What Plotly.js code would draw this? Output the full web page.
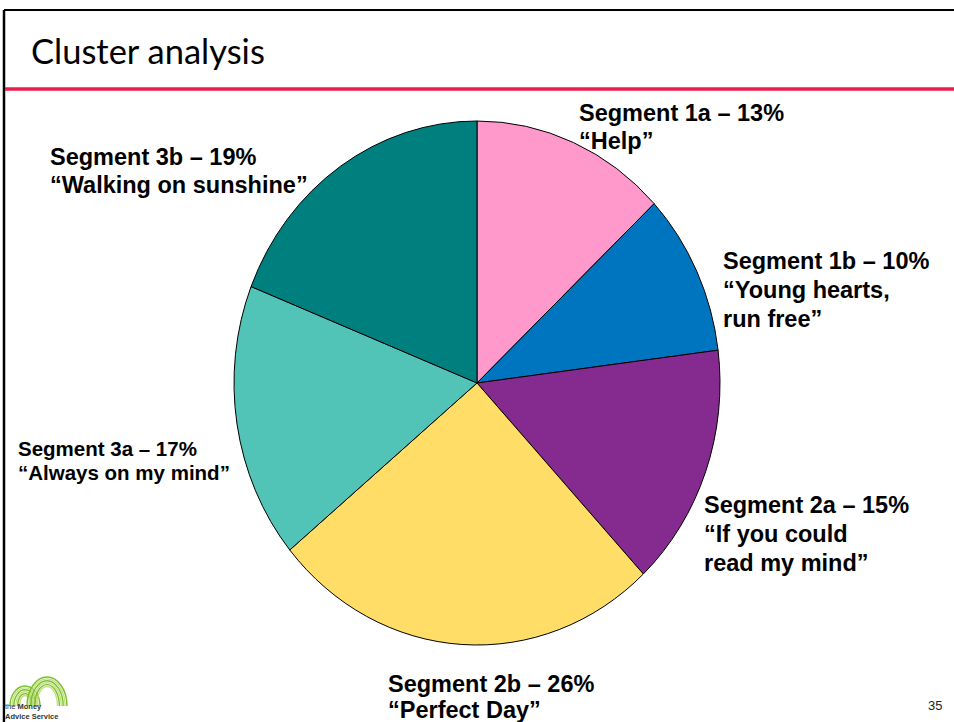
<!DOCTYPE html>
<html>
<head>
<meta charset="utf-8">
<script src="https://cdn.plot.ly/plotly-3.0.1.min.js"></script>
<style>
html,body{margin:0;padding:0;background:#fff;}
#chart{width:954px;height:722px;}
</style>
</head>
<body>
<div id="chart"></div>
<script>
// ---- data ----
const segments = ['Segment 1a', 'Segment 1b', 'Segment 2a', 'Segment 2b', 'Segment 3a', 'Segment 3b'];
const shares = [13, 10, 15, 26, 17, 19];
const nicknameLines = [
  ['\u201CHelp\u201D'],
  ['\u201CYoung hearts,', 'run free\u201D'],
  ['\u201CIf you could', 'read my mind\u201D'],
  ['\u201CPerfect Day\u201D'],
  ['\u201CAlways on my mind\u201D'],
  ['\u201CWalking on sunshine\u201D']
];
const sliceColors = ['#FF99CC', '#0075BF', '#852B8F', '#FFDD66', '#52C3B7', '#007F7F'];
const slideTitle = 'Cluster analysis';
const pageNumber = '35';

// ---- layout helpers (pixel -> paper) ----
const W = 954, H = 722;
const px = x => x / W;
const py = y => 1 - y / H;

// label placement (pixels): left x, first line centre y, line step, font size
const labelPos = [
  {x: 578, y: 113, step: 28, size: 23.5},
  {x: 722, y: 261, step: 29, size: 23.5},
  {x: 703, y: 505, step: 29, size: 23.5},
  {x: 387, y: 684, step: 26, size: 23.5},
  {x: 17,  y: 449, step: 23, size: 20.5},
  {x: 49,  y: 157, step: 28, size: 23.5}
];

const annotations = [];
segments.forEach((seg, i) => {
  const lines = [seg + ' \u2013 ' + shares[i] + '%'].concat(nicknameLines[i]);
  const p = labelPos[i];
  lines.forEach((t, j) => {
    annotations.push({
      text: '<b>' + t + '</b>', showarrow: false, borderpad: 0,
      xref: 'paper', yref: 'paper', x: px(p.x), y: py(p.y + j * p.step),
      xanchor: 'left', yanchor: 'middle', align: 'left',
      font: {family: 'Liberation Sans, Arial, sans-serif', size: p.size, color: '#000'}
    });
  });
});
annotations.push({
  text: slideTitle, showarrow: false, xref: 'paper', yref: 'paper',
  x: px(29), y: py(50), xanchor: 'left', yanchor: 'middle',
  font: {family: 'Lato, "Open Sans", sans-serif', size: 34.5, color: '#000'}
});
annotations.push({
  text: pageNumber, showarrow: false, xref: 'paper', yref: 'paper',
  x: px(935), y: py(705), xanchor: 'center', yanchor: 'middle',
  font: {family: 'Liberation Sans, Arial, sans-serif', size: 13, color: '#222'}
});
annotations.push({
  text: 'the <b>Money</b><br><b>Advice Service</b>', showarrow: false, borderpad: 0,
  xref: 'paper', yref: 'paper', x: px(4), y: 0, xanchor: 'left', yanchor: 'bottom', align: 'left',
  font: {family: 'Liberation Sans, Arial, sans-serif', size: 7.5, color: '#333'}
});

// shapes: slide frame, red rule, logo arches
const shapes = [
  {type: 'line', xref: 'paper', yref: 'paper', x0: px(4), x1: 1, y0: py(10), y1: py(10), line: {color: '#000', width: 2}},
  {type: 'line', xref: 'paper', yref: 'paper', x0: px(4), x1: px(4), y0: py(10), y1: 0, line: {color: '#000', width: 2.5}},
  {type: 'line', xref: 'paper', yref: 'paper', x0: px(5), x1: 1, y0: py(89), y1: py(89), line: {color: '#E91C4B', width: 3.5}}
];
const arches = [{cx: 25, cy: 706, rx: 15, ry: 20}, {cx: 47, cy: 706, rx: 20, ry: 29}];
arches.forEach(a => {
  for (let k = 0; k < 6; k++) {
    const rx = a.rx - k * 1.9, ry = a.ry - k * 1.9;
    shapes.push({type: 'circle', xref: 'paper', yref: 'paper',
      x0: px(a.cx - rx), x1: px(a.cx + rx), y0: py(a.cy + ry), y1: py(a.cy - ry),
      line: {color: k % 2 ? '#C2E07E' : '#7DBE2E', width: 1.4}});
  }
});
shapes.push({type: 'rect', xref: 'paper', yref: 'paper', x0: px(5.5), x1: px(85), y0: 0, y1: py(706),
  fillcolor: '#fff', line: {width: 0}});

// pie geometry (pixels)
const cx = 477, cy = 383, rx = 243, ry = 262;

const trace = {
  type: 'pie', labels: segments, values: shares, sort: false,
  direction: 'clockwise', rotation: 0, textinfo: 'none', hoverinfo: 'label+percent',
  marker: {colors: sliceColors, line: {color: '#000', width: 1}},
  domain: {x: [px(cx - rx), px(cx + rx)], y: [py(cy + rx), py(cy - rx)]},
  showlegend: false
};

const layout = {
  width: W, height: H, margin: {l: 0, r: 0, t: 0, b: 0},
  paper_bgcolor: '#fff', plot_bgcolor: '#fff',
  showlegend: false, annotations: annotations, shapes: shapes
};

Plotly.newPlot('chart', [trace], layout, {displayModeBar: false, staticPlot: true}).then(gd => {
  // the original slide stretches the pie vertically into an ellipse
  const k = ry / rx;
  const layer = gd.querySelector('.pielayer');
  if (layer) {
    layer.setAttribute('transform', 'matrix(1,0,0,' + k + ',0,' + (cy * (1 - k)) + ')');
    layer.querySelectorAll('path').forEach(p => p.setAttribute('vector-effect', 'non-scaling-stroke'));
  }
});
</script>
</body>
</html>
